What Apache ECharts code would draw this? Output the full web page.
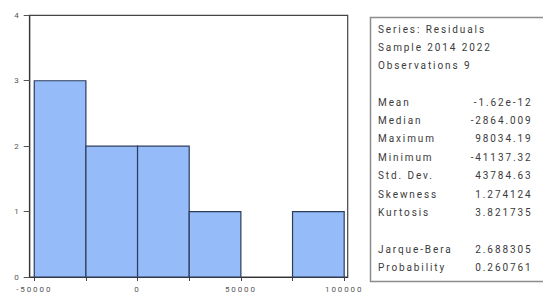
<!DOCTYPE html>
<html>
<head>
<meta charset="utf-8">
<script src="https://cdn.jsdelivr.net/npm/echarts@6/dist/echarts.min.js"></script>
<style>
html,body{margin:0;padding:0;background:#fff;}
#chart{width:543px;height:295px;}
#chart text{letter-spacing:1.9px;}
</style>
</head>
<body>
<div id="chart"></div>
<script>
// Histogram bins (residuals) and counts
var binStarts = [-50000, -25000, 0, 25000, 50000, 75000];
var binEnds   = [-25000, 0, 25000, 50000, 75000, 100000];
var counts    = [3, 2, 2, 1, 0, 1];

// Axis ticks and labels
var xTickValues  = [-50000, -25000, 0, 25000, 50000, 75000, 100000];
var xLabelValues = [-50000, 0, 50000, 100000];
var yTickValues  = [0, 1, 2, 3, 4];

// Statistics box text
var headerLines = ['Series: Residuals', 'Sample 2014 2022', 'Observations 9'];
var statLabels  = ['Mean', 'Median', 'Maximum', 'Minimum', 'Std. Dev.', 'Skewness', 'Kurtosis'];
var statValues  = ['-1.62e-12', '-2864.009', '98034.19', '-41137.32', '43784.63', '1.274124', '3.821735'];
var testLabels  = ['Jarque-Bera', 'Probability'];
var testValues  = ['2.688305', '0.260761'];

var chart = echarts.init(document.getElementById('chart'), null, {renderer: 'svg'});

var binData = binStarts.map(function (s, i) { return [s, binEnds[i], counts[i]]; });

var txtColor = '#3a3a3a';
var font = 'Roboto, "Liberation Sans", sans-serif';
var graphics = [{
  type: 'rect',
  shape: {x: 370.5, y: 17.5, width: 185, height: 264},
  style: {fill: '#fff', stroke: '#8c8c8c', lineWidth: 1.5},
  silent: true
}];
var lx = 378, rx = 532.5, step = 18.4;
headerLines.forEach(function (t, i) {
  graphics.push({type: 'text', x: lx, y: 29 + i * step,
    style: {text: t, fill: txtColor, fontSize: 10, fontFamily: font, verticalAlign: 'middle', align: 'left'}});
});
statLabels.forEach(function (t, i) {
  var y = 102 + i * step;
  graphics.push({type: 'text', x: lx, y: y,
    style: {text: t, fill: txtColor, fontSize: 10, fontFamily: font, verticalAlign: 'middle', align: 'left'}});
  graphics.push({type: 'text', x: rx, y: y,
    style: {text: statValues[i], fill: txtColor, fontSize: 10, fontFamily: font, verticalAlign: 'middle', align: 'right'}});
});
testLabels.forEach(function (t, i) {
  var y = 249.5 + i * step;
  graphics.push({type: 'text', x: lx, y: y,
    style: {text: t, fill: txtColor, fontSize: 10, fontFamily: font, verticalAlign: 'middle', align: 'left'}});
  graphics.push({type: 'text', x: rx, y: y,
    style: {text: testValues[i], fill: txtColor, fontSize: 10, fontFamily: font, verticalAlign: 'middle', align: 'right'}});
});

var option = {
  animation: false,
  backgroundColor: '#fff',
  grid: {
    left: 29.7, top: 15.3, width: 318, height: 261.7,
    containLabel: false, outerBoundsMode: 'none',
    show: true, borderColor: '#444', borderWidth: 1.2, backgroundColor: 'transparent'
  },
  xAxis: {
    type: 'value', min: -52200, max: 101700,
    splitLine: {show: false},
    axisLine: {show: true, onZero: false, lineStyle: {color: '#333', width: 1.2}},
    axisTick: {show: true, length: 4, customValues: xTickValues, lineStyle: {color: '#444'}},
    axisLabel: {customValues: xLabelValues, color: '#555', fontSize: 8, fontFamily: font, margin: 8,
      formatter: function (v) { return String(v); }}
  },
  yAxis: {
    type: 'value', min: 0, max: 4, interval: 1,
    splitLine: {show: false},
    axisLine: {show: true, onZero: false, lineStyle: {color: '#333', width: 1.2}},
    axisTick: {show: true, length: 6, lineStyle: {color: '#555'}},
    axisLabel: {color: '#555', fontSize: 8, fontFamily: font, margin: 9,
      customValues: yTickValues}
  },
  series: [{
    type: 'custom',
    data: binData,
    encode: {x: [0, 1], y: 2},
    renderItem: function (params, api) {
      var c = api.value(2);
      if (!c) return null;
      var p0 = api.coord([api.value(0), c]);
      var p1 = api.coord([api.value(1), 0]);
      return {
        type: 'rect',
        shape: {x: p0[0], y: p0[1], width: p1[0] - p0[0], height: p1[1] - p0[1]},
        style: {fill: '#95bbf8', stroke: '#2c3d5c', lineWidth: 1.2}
      };
    }
  }],
  graphic: graphics
};
chart.setOption(option);
</script>
</body>
</html>
